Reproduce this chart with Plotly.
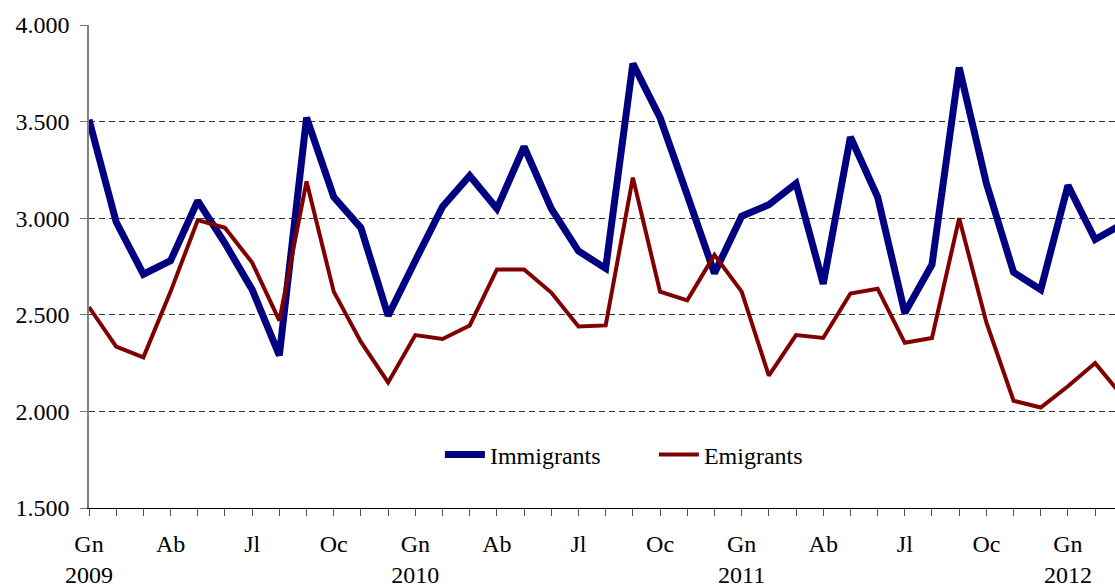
import plotly.graph_objects as go

# Months Jan 2009 .. Mar 2012 (index 0..38)
month_abbr = ["Gn", "Fb", "Mç", "Ab", "Mg", "Jn", "Jl", "Ag", "St", "Oc", "Nv", "Ds"]
years = [2009, 2010, 2011, 2012]
n_months = 39

immigrants = [3510, 2980, 2710, 2780, 3090, 2870, 2630, 2290, 3520, 3110, 2950, 2495,
              2780, 3060, 3220, 3050, 3370, 3050, 2830, 2740, 3800, 3520, 3120, 2715,
              3010, 3070, 3180, 2660, 3420, 3110, 2510, 2760, 3780, 3180, 2720, 2630,
              3170, 2890, 2970]

emigrants = [2540, 2335, 2280, 2620, 2990, 2950, 2770, 2470, 3190, 2620, 2360, 2150,
             2395, 2375, 2445, 2735, 2735, 2615, 2440, 2445, 3210, 2620, 2575, 2810,
             2620, 2185, 2395, 2380, 2610, 2635, 2355, 2380, 3000, 2460, 2055, 2020,
             2130, 2250, 2080]

x = list(range(n_months))

tick_vals = x
tick_text = []
for i in x:
    m = i % 12
    if m == 0:
        tick_text.append(f"{month_abbr[m]}<br>{years[i // 12]}")
    elif m in (3, 6, 9):
        tick_text.append(month_abbr[m])
    else:
        tick_text.append("")

y_ticks = [1500, 2000, 2500, 3000, 3500, 4000]

fig = go.Figure()
fig.add_trace(go.Scatter(x=x, y=immigrants, mode="lines", name="Immigrants",
                         line=dict(color="#000080", width=7)))
fig.add_trace(go.Scatter(x=x, y=emigrants, mode="lines", name="Emigrants",
                         line=dict(color="#800000", width=4)))

font_family = "Liberation Serif"

fig.update_layout(
    width=1115, height=587,
    margin=dict(l=89, r=0, t=25, b=79),
    paper_bgcolor="white", plot_bgcolor="white",
    separators=",.",
    font=dict(family=font_family, size=24, color="black"),
    showlegend=True,
    legend=dict(orientation="h", x=0.342, y=0.11, xanchor="left", yanchor="middle",
                font=dict(family=font_family, size=24, color="black"),
                bgcolor="rgba(0,0,0,0)", itemwidth=40, tracegroupgap=0,
                entrywidth=159, entrywidthmode="pixels"),
    xaxis=dict(range=[0, 37.73], tickmode="array", tickvals=tick_vals, ticktext=tick_text,
               ticks="outside", ticklen=7, tickcolor="#555555", tickwidth=1,
               showline=True, linecolor="black", linewidth=1,
               showgrid=False, zeroline=False, tickangle=0, automargin=False,
               ticklabelstandoff=7,
               tickfont=dict(family=font_family, size=24, color="black")),
    yaxis=dict(range=[1500, 4000], tickmode="array", tickvals=y_ticks,
               tickformat=",.0f", automargin=False,
               ticks="outside", ticklen=7, tickcolor="#777777", tickwidth=1,
               showline=True, linecolor="#808080", linewidth=1.5,
               showgrid=True, gridcolor="#333333", gridwidth=1, griddash="6px,4px",
               zeroline=False, ticklabelstandoff=6,
               tickfont=dict(family=font_family, size=24, color="black")),
)

fig.write_html("out.html",
               config={"displayModeBar": False},
               post_script="document.body.style.margin='0';document.body.style.overflow='hidden';")
